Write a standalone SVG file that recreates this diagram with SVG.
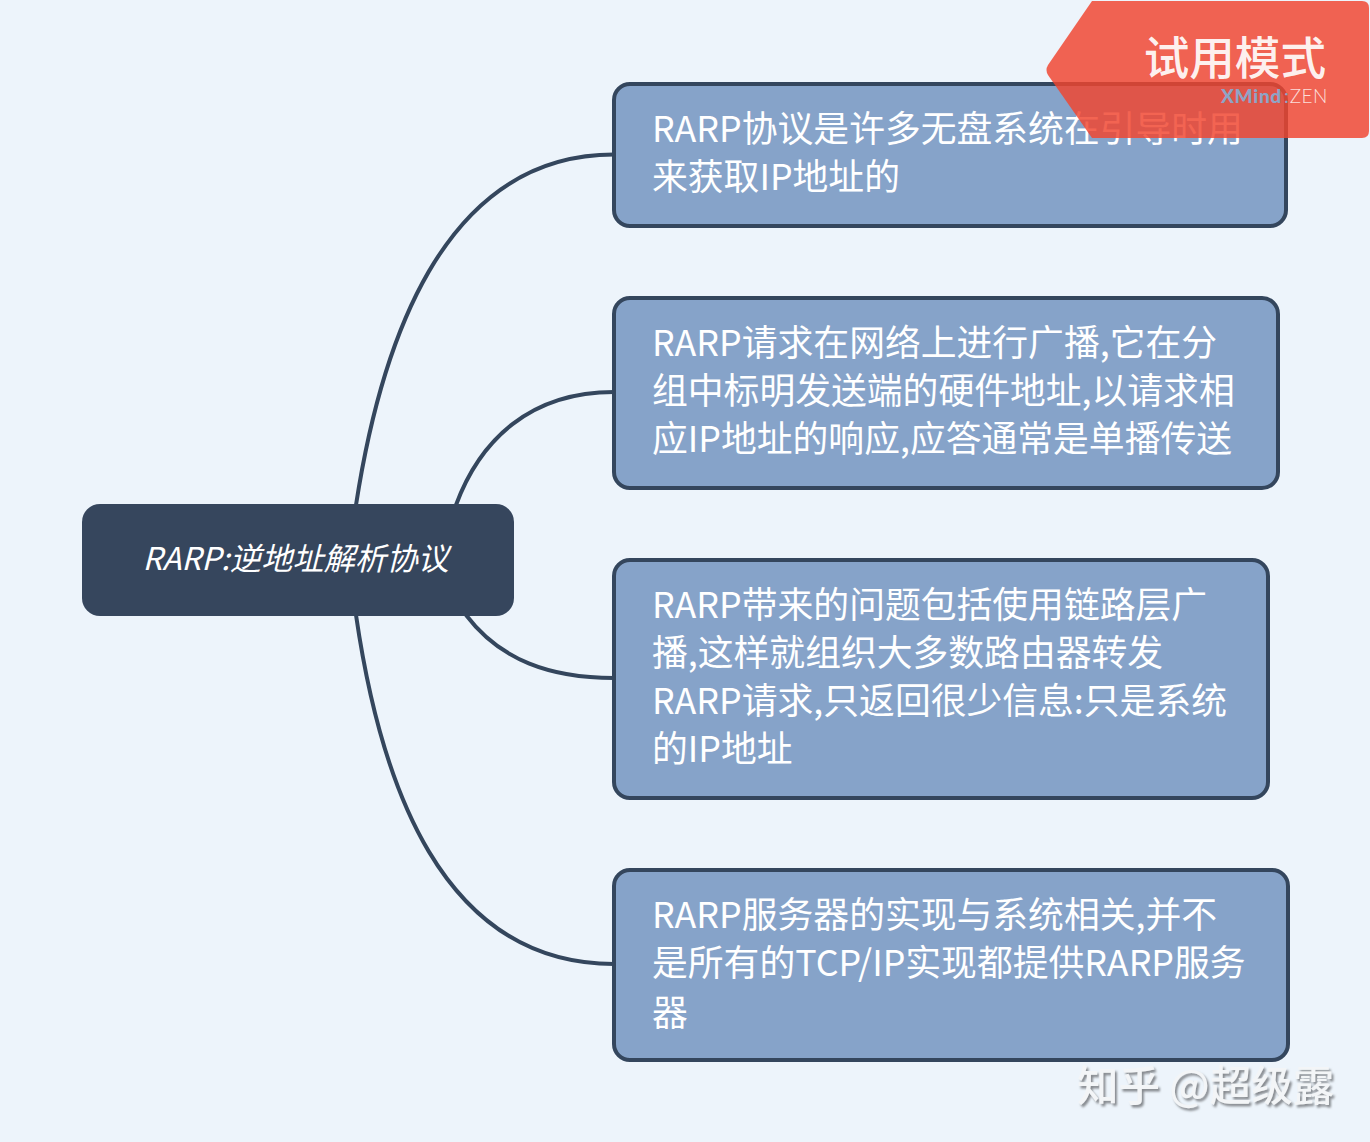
<svg xmlns="http://www.w3.org/2000/svg" width="1370" height="1142" viewBox="0 0 1370 1142">
<defs>
<filter id="ws" x="-5%" y="-20%" width="110%" height="140%"><feDropShadow dx="2" dy="2.5" stdDeviation="0.8" flood-color="#85898e" flood-opacity="1"/></filter>
</defs>
<style>
text{font-family:"Noto Sans CJK SC","Noto Sans",sans-serif}
.n{fill:#86a3c9;stroke:#34465d;stroke-width:4}
.t{fill:#fff;font-size:35.8px}
.c{fill:none;stroke:#34465d;stroke-width:4}
</style>
<rect width="1370" height="1142" fill="#edf4fb"/>
<g id="connectors">
<path class="c" d="M356 505C380 350 440 154.500 614 154.500"/>
<path class="c" d="M456 505C480 440 530 392 614 392"/>
<path class="c" d="M466 615C500 660 550 678 614 678"/>
<path class="c" d="M356 615C380 780 440 964 614 964"/>
</g>
<g id="root">
<rect x="82" y="504" width="432" height="112" rx="18" fill="#36465d"/>
<text x="142.500" y="570" fill="#fff" font-size="31.300" font-style="italic">RARP:逆地址解析协议</text>
</g>
<g id="node1">
<rect class="n" x="614" y="84" width="672" height="142" rx="16"/>
<text class="t" x="652" y="142">RARP协议是许多无盘系统在引导时用</text>
<text class="t" x="652" y="190">来获取IP地址的</text>
</g>
<g id="node2">
<rect class="n" x="614" y="298" width="664" height="190" rx="16"/>
<text class="t" x="652" y="356">RARP请求在网络上进行广播,它在分</text>
<text class="t" x="652" y="404">组中标明发送端的硬件地址,以请求相</text>
<text class="t" x="652" y="452">应IP地址的响应,应答通常是单播传送</text>
</g>
<g id="node3">
<rect class="n" x="614" y="560" width="654" height="238" rx="16"/>
<text class="t" x="652" y="618">RARP带来的问题包括使用链路层广</text>
<text class="t" x="652" y="666">播,这样就组织大多数路由器转发</text>
<text class="t" x="652" y="714">RARP请求,只返回很少信息:只是系统</text>
<text class="t" x="652" y="762">的IP地址</text>
</g>
<g id="node4">
<rect class="n" x="614" y="870" width="674" height="190" rx="16"/>
<text class="t" x="652" y="928">RARP服务器的实现与系统相关,并不</text>
<text class="t" x="652" y="976">是所有的TCP/IP实现都提供RARP服务</text>
<text class="t" x="652" y="1026">器</text>
</g>
<g id="badge">
<path d="M1092 1H1362Q1369 1 1369 8V131Q1369 138 1362 138H1092L1048 75Q1045 70 1048 65Z" fill="#f0452f" fill-opacity=".83"/>
<text x="1326" y="75" text-anchor="end" fill="#fff" fill-opacity=".92" font-size="45.600" font-weight="500">试用模式</text>
<text x="1221" y="103" font-size="19" style="font-family:Lato,'Noto Sans',sans-serif"><tspan fill="#8ea4c6" font-weight="900" letter-spacing=".7">XMind</tspan><tspan fill="#8ea4c6" dx="2">:</tspan><tspan fill="#fff" fill-opacity=".8" font-weight="300" dx="1" letter-spacing=".5">ZEN</tspan></text>
</g>
<g id="watermark">
<text x="1077" y="1101" fill="#f3f5f7" font-size="41.500" font-weight="500" filter="url(#ws)">知乎 @超级露</text>
</g>
</svg>
